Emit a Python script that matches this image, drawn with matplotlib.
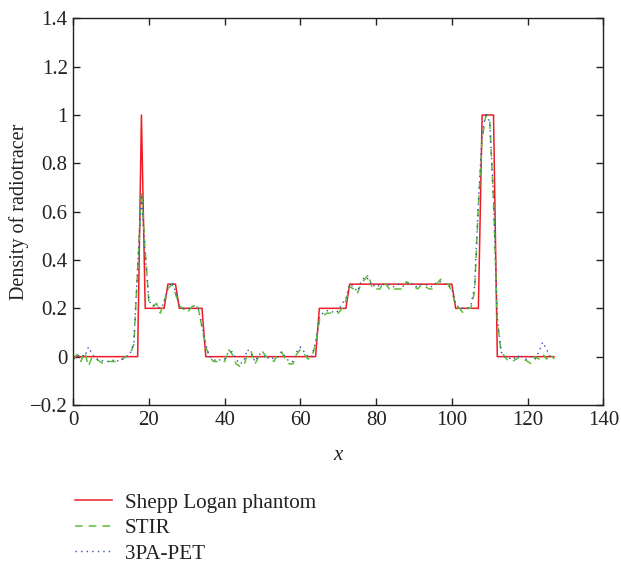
import numpy as np
import matplotlib
matplotlib.use("Agg")
import matplotlib.pyplot as plt

# ── Data ──────────────────────────────────────────────────────────────────────

x = np.arange(128)

phantom = (
    [0.0] * 18 + [1.0] + [0.2] * 6 + [0.3] * 3 + [0.2] * 7 + [0.0] * 30
    + [0.2] * 8 + [0.3] * 28 + [0.2] * 7 + [1.0] * 4 + [0.0] * 16
)

stir = [
    -0.01, 0.01, -0.02, 0.02, -0.04, 0.00, -0.01, -0.02, -0.03, -0.02,
    -0.02, -0.02, -0.02, -0.01, 0.00, 0.01, 0.05, 0.36, 0.68, 0.44,
    0.22, 0.21, 0.22, 0.18, 0.23, 0.28, 0.30, 0.26, 0.21, 0.20,
    0.18, 0.20, 0.22, 0.20, 0.12, 0.04, 0.00, -0.02, -0.02, -0.02,
    -0.02, 0.03, 0.01, -0.03, -0.04, -0.04, 0.01, 0.02, -0.03, 0.00,
    0.02, 0.00, -0.01, -0.02, 0.01, 0.02, -0.01, -0.03, -0.03, 0.01,
    0.03, 0.01, -0.01, 0.00, 0.05, 0.15, 0.17, 0.18, 0.18, 0.18,
    0.18, 0.20, 0.23, 0.29, 0.28, 0.26, 0.30, 0.32, 0.34, 0.28,
    0.28, 0.28, 0.31, 0.29, 0.27, 0.28, 0.28, 0.28, 0.31, 0.30,
    0.29, 0.28, 0.30, 0.29, 0.28, 0.28, 0.30, 0.32, 0.31, 0.30,
    0.27, 0.21, 0.20, 0.18, 0.20, 0.20, 0.27, 0.62, 0.90, 1.00,
    0.98, 0.64, 0.15, 0.02, 0.00, -0.02, -0.02, -0.01, 0.00, -0.01,
    -0.02, -0.03, 0.00, -0.01, 0.01, -0.01, 0.01, -0.01,
]

pet = [
    -0.01, 0.00, 0.01, 0.00, 0.04, 0.01, -0.01, -0.01, -0.02, -0.02,
    -0.02, -0.01, -0.02, -0.01, 0.00, 0.01, 0.06, 0.37, 0.67, 0.42,
    0.23, 0.21, 0.21, 0.20, 0.22, 0.28, 0.31, 0.27, 0.21, 0.20,
    0.20, 0.20, 0.21, 0.20, 0.13, 0.05, 0.00, -0.01, -0.02, -0.01,
    -0.01, 0.02, 0.02, -0.01, -0.03, -0.02, 0.03, 0.01, -0.02, 0.01,
    0.01, -0.01, 0.00, -0.01, 0.00, 0.02, 0.00, -0.02, -0.02, 0.02,
    0.04, 0.02, 0.00, 0.00, 0.06, 0.16, 0.18, 0.19, 0.19, 0.18,
    0.19, 0.22, 0.24, 0.30, 0.29, 0.27, 0.31, 0.33, 0.32, 0.29,
    0.30, 0.29, 0.30, 0.30, 0.29, 0.29, 0.30, 0.29, 0.30, 0.31,
    0.29, 0.29, 0.30, 0.30, 0.29, 0.29, 0.31, 0.31, 0.30, 0.30,
    0.28, 0.22, 0.20, 0.20, 0.20, 0.21, 0.29, 0.64, 0.92, 1.01,
    0.97, 0.66, 0.16, 0.02, 0.00, -0.01, 0.00, -0.01, 0.01, -0.01,
    -0.01, 0.00, -0.01, 0.02, 0.06, 0.03, 0.00, 0.00,
]

labels = ["Shepp Logan phantom", "STIR", "3PA-PET"]
xticks = [0, 20, 40, 60, 80, 100, 120, 140]
yticks = [-0.2, 0, 0.2, 0.4, 0.6, 0.8, 1, 1.2, 1.4]
ytick_labels = ["\u22120.2", "0", "0.2", "0.4", "0.6", "0.8", "1", "1.2", "1.4"]

# ── Plot ──────────────────────────────────────────────────────────────────────

plt.rcParams["font.family"] = ["Liberation Serif", "DejaVu Serif"]
ink = "#222222"

fig = plt.figure(figsize=(6.21, 5.65), dpi=100)
ax = fig.add_axes([0.118, 0.2832, 0.8535, 0.6844])

ax.plot(x, phantom, color="#ee1c25", linewidth=1.1, label=labels[0])
ax.plot(x, stir, color="#5cbf3a", linewidth=1.1, linestyle=(0, (5, 4)),
        label=labels[1])
ax.plot(x, pet, color="#3b4fb0", linewidth=1.0, linestyle=(0, (1, 3)),
        label=labels[2])

ax.set_xlim(0, 140)
ax.set_ylim(-0.2, 1.4)
ax.set_xticks(xticks)
ax.set_yticks(yticks)
ax.set_yticklabels(ytick_labels)
ax.tick_params(direction="in", top=True, right=True, length=5, width=1,
               labelsize=15, colors=ink, pad=4)
for s in ax.spines.values():
    s.set_linewidth(1.0)
    s.set_color(ink)

ax.set_xlabel("x", fontsize=15, style="italic", labelpad=12, color=ink)
ax.set_ylabel("Density of radiotracer", fontsize=14.5, labelpad=1, color=ink)

fig.legend(loc="upper left", bbox_to_anchor=(0.09, 0.161), frameon=False,
           fontsize=15.2, handlelength=1.75, handletextpad=0.6, labelspacing=0.27,
           labelcolor=ink)

fig.savefig("out.png", dpi=100)
